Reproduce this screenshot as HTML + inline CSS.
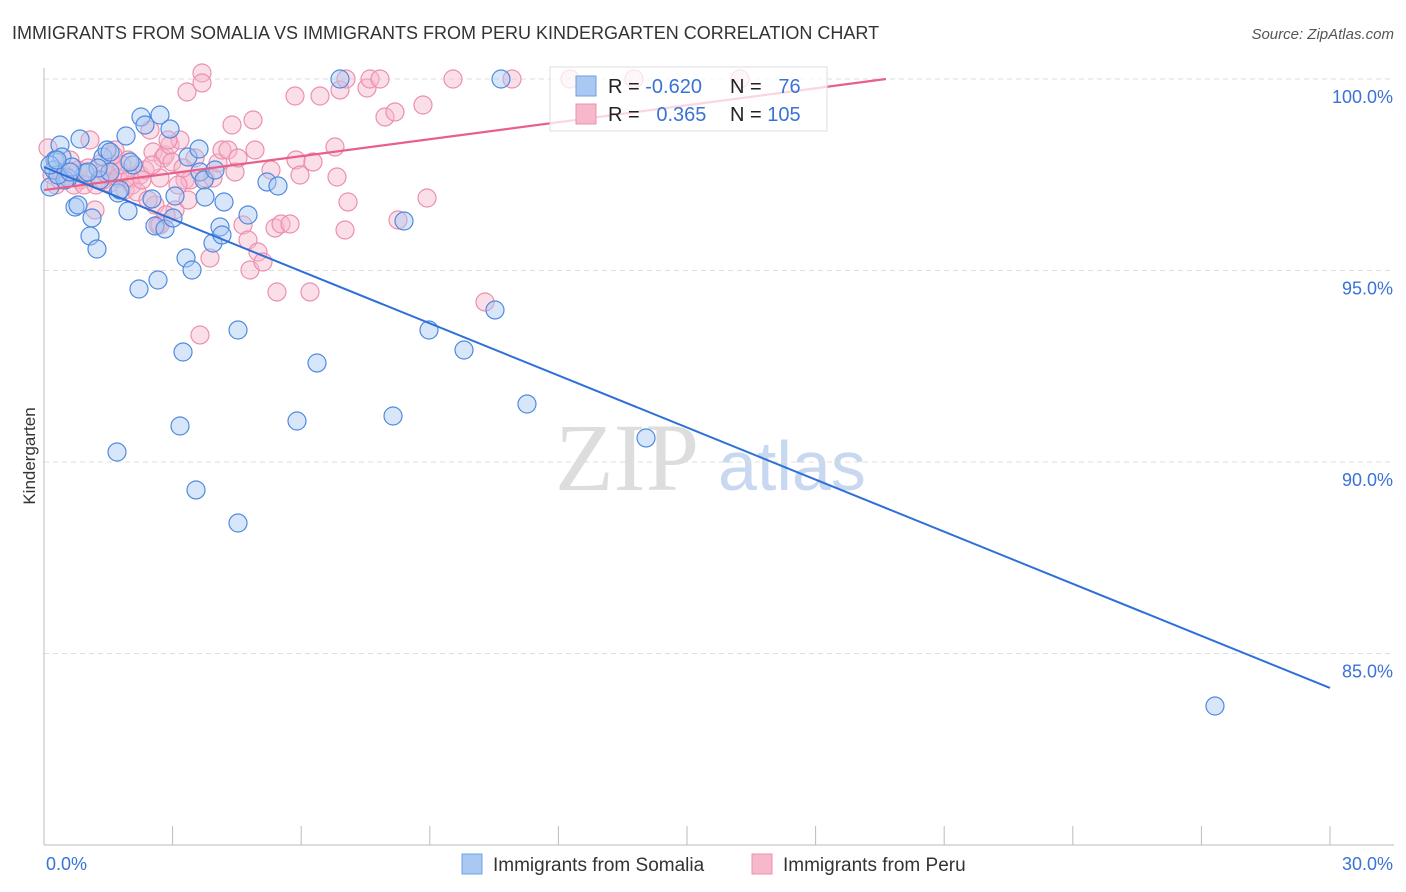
<!DOCTYPE html>
<html><head><meta charset="utf-8"><style>
body{margin:0;background:#fff;font-family:"Liberation Sans",sans-serif;}
#wrap{position:relative;width:1406px;height:892px;overflow:hidden}
</style></head><body>
<div id="wrap">
<svg id="chart" width="1406" height="892" xmlns="http://www.w3.org/2000/svg">
<text x="12" y="39" font-size="18" fill="#333">IMMIGRANTS FROM SOMALIA VS IMMIGRANTS FROM PERU KINDERGARTEN CORRELATION CHART</text>
<text x="1394" y="39" font-size="15" fill="#555" font-style="italic" text-anchor="end">Source: ZipAtlas.com</text>
<text x="35" y="456" font-size="17" fill="#333" text-anchor="middle" transform="rotate(-90 35 456)">Kindergarten</text>
<text x="555" y="490" font-size="96" fill="#ddd" font-family="Liberation Serif,serif">ZIP</text>
<text x="718" y="490" font-size="70" fill="#c8d8f0">atlas</text>
<g id="grid"></g><g id="axes"></g><g id="pts"></g><g id="lines"></g>
<g>
<rect x="550" y="67" width="277" height="64" fill="#fff" fill-opacity="0.75" stroke="#ddd"/>
<rect x="576" y="76" width="20" height="20" fill="#a9c8f2" stroke="#6fa0e0"/>
<rect x="576" y="104" width="20" height="20" fill="#f7b8cb" stroke="#ec8fae"/>
<text x="608" y="93" font-size="20" fill="#222">R = <tspan fill="#3a72d6">-0.620</tspan></text>
<text x="730" y="93" font-size="20" fill="#222">N = <tspan fill="#3a72d6">&#160;&#160;76</tspan></text>
<text x="608" y="121" font-size="20" fill="#222">R = <tspan fill="#3a72d6">&#160;&#160;0.365</tspan></text>
<text x="730" y="121" font-size="20" fill="#222">N = <tspan fill="#3a72d6">105</tspan></text>
</g>
<g>
<rect x="462" y="854" width="20" height="20" fill="#a9c8f2" stroke="#6fa0e0"/>
<text x="493" y="871" font-size="19" fill="#333">Immigrants from Somalia</text>
<rect x="752" y="854" width="20" height="20" fill="#f7b8cb" stroke="#ec8fae"/>
<text x="783" y="871" font-size="19" fill="#333">Immigrants from Peru</text>
</g>
</svg></div>
<script>
const yTicks=[100,95,90,85];
const yTickLabels=["100.0%","95.0%","90.0%","85.0%"];
const xTickVals=[0,3,6,9,12,15,18,21,24,27,30];
const xEndLabels=["0.0%","30.0%"];
const somaliaPx=[[50,187],[55,160],[60,145],[62,157],[68,178],[75,207],[78,205],[80,139],[85,173],[90,236],[92,218],[97,249],[100,180],[103,157],[107,150],[110,172],[118,193],[120,190],[126,136],[128,211],[133,165],[139,289],[141,117],[145,125],[152,199],[155,226],[158,280],[160,115],[165,229],[170,129],[173,218],[175,196],[180,426],[183,352],[186,258],[188,157],[192,270],[196,490],[199,149],[200,172],[204,180],[205,197],[213,243],[215,170],[220,227],[222,235],[224,202],[238,330],[238,523],[248,215],[267,182],[278,186],[297,421],[317,363],[340,79],[393,416],[404,221],[429,330],[464,350],[495,310],[501,79],[527,404],[646,438],[1215,706],[117,452],[54,170],[65,180],[58,175],[72,167],[98,168],[110,152],[130,162],[50,165],[57,160],[70,172],[88,172]];
const peruPx=[[62,172],[70,160],[80,180],[90,140],[95,210],[100,164],[105,173],[110,183],[115,150],[120,172],[125,190],[128,160],[132,185],[140,175],[145,170],[150,130],[153,152],[155,205],[160,178],[163,158],[165,155],[170,145],[175,210],[180,140],[185,180],[187,92],[190,180],[195,158],[200,335],[202,73],[202,83],[205,178],[210,258],[213,178],[218,163],[222,150],[228,150],[232,125],[235,172],[238,158],[243,225],[248,240],[250,270],[253,120],[255,150],[258,252],[263,262],[271,170],[275,228],[277,292],[281,224],[290,224],[295,96],[296,160],[300,175],[310,292],[313,162],[320,96],[335,147],[337,177],[340,90],[345,230],[348,202],[346,79],[367,88],[370,79],[380,79],[385,117],[395,112],[398,220],[423,105],[427,198],[453,79],[485,302],[512,79],[570,79],[634,79],[740,79],[48,148],[52,175],[56,185],[60,180],[66,176],[74,185],[78,170],[84,185],[88,168],[96,185],[103,180],[108,175],[113,165],[118,178],[122,165],[130,178],[137,192],[142,180],[148,200],[152,165],[158,225],[168,140],[172,162],[178,185],[183,168],[188,200],[160,225],[166,215],[113,155]];
// convert read pixel positions into data values (percent)
const somaliaX=somaliaPx.map(p=>+((p[0]-44)/1286*30).toFixed(3));
const somaliaY=somaliaPx.map(p=>+(100-(p[1]-79)/38.3).toFixed(3));
const peruX=peruPx.map(p=>+((p[0]-44)/1286*30).toFixed(3));
const peruY=peruPx.map(p=>+(100-(p[1]-79)/38.3).toFixed(3));
const somaliaTrend=[[0,97.7],[30,84.1]];
const peruTrend=[[0,97.1],[19.64,100]];
const X=v=>44+v/30*1286, Y=v=>79+(100-v)*38.3;
const NS="http://www.w3.org/2000/svg";
function mk(parent,tag,attrs){const e=document.createElementNS(NS,tag);for(const k in attrs)e.setAttribute(k,attrs[k]);document.getElementById(parent).appendChild(e);return e;}
yTicks.forEach((t,i)=>{
 const l=mk('grid','line',{x1:44,x2:1394,y1:Y(t),y2:Y(t),stroke:'#ddd','stroke-dasharray':'5,4'});
 
 
 const tx=mk('grid','text',{x:1393,y:Y(t)+24,'font-size':18,fill:'#3a72d6','text-anchor':'end'});
 tx.textContent=yTickLabels[i];
 
 
});
const ay=mk('axes','line',{x1:44,x2:44,y1:68,y2:845,stroke:'#bbb'});


const ax=mk('axes','line',{x1:44,x2:1394,y1:845,y2:845,stroke:'#bbb'});


xTickVals.forEach(v=>{
 const t=mk('axes','line',{x1:X(v),x2:X(v),y1:826,y2:845,stroke:'#bbb'});
 
 
});
[[0,'start',46],[30,'end',1393]].forEach((d,i)=>{
 const t=mk('axes','text',{x:d[2],y:870,'font-size':18,fill:'#3a72d6','text-anchor':d[1]});
 t.textContent=xEndLabels[i];
 
 
});
peruX.forEach((x,i)=>{
 const c=mk('pts','circle',{cx:X(x),cy:Y(peruY[i]),r:9,fill:'#f7b8cb','fill-opacity':0.45,stroke:'#ec8fae','stroke-width':1.2});
 
 
});
somaliaX.forEach((x,i)=>{
 const c=mk('pts','circle',{cx:X(x),cy:Y(somaliaY[i]),r:9,fill:'#a9c8f2','fill-opacity':0.45,stroke:'#4f8ae0','stroke-width':1.2});
 
 
});
const lp=mk('lines','line',{x1:X(peruTrend[0][0]),y1:Y(peruTrend[0][1]),x2:X(peruTrend[1][0]),y2:Y(peruTrend[1][1]),stroke:'#e8608a','stroke-width':2.2});


const ls=mk('lines','line',{x1:X(somaliaTrend[0][0]),y1:Y(somaliaTrend[0][1]),x2:X(somaliaTrend[1][0]),y2:Y(somaliaTrend[1][1]),stroke:'#2f6fd8','stroke-width':2});


</script>
</body></html>
